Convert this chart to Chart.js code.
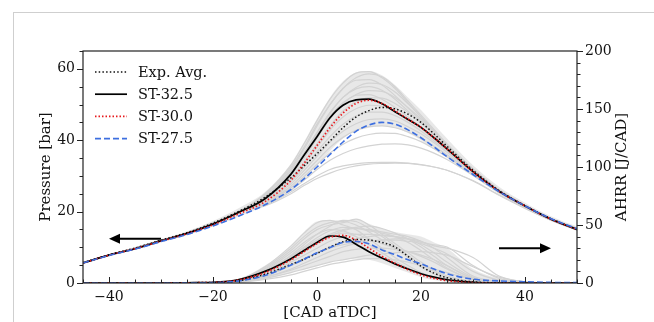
<!DOCTYPE html>
<html>
<head>
<meta charset="utf-8">
<script src="https://cdn.jsdelivr.net/npm/chart.js@4"></script>
<style>
  html, body { margin: 0; padding: 0; background: #fff; }
  #wrap { position: relative; width: 654px; height: 322px; overflow: hidden; }
  #frame { position: absolute; left: 13px; top: 12px; right: -2px; bottom: -2px;
           border-top: 1px solid #cfcfcf; border-left: 1px solid #cfcfcf; }
  canvas { position: absolute; left: 0; top: 0; }
</style>
</head>
<body>
<div id="wrap">
  <canvas id="chart" width="654" height="322"></canvas>
  <div id="frame"></div>
</div>
<script>
// crank angle grid [CAD aTDC]
const cad = [-45, -40, -35, -30, -25, -20, -15, -10, -5, -2.5, 0, 2.5, 5, 7.5, 10,
             12.5, 15, 17.5, 20, 22.5, 25, 30, 35, 40, 45, 50];

// pressure [bar]
const pExpAvg = [5.7, 7.9, 9.8, 12.0, 14.1, 16.8, 20.1, 24.0, 29.5, 32.8, 36.2, 39.8, 43.5,
                 46.5, 48.3, 49.2, 48.8, 47.3, 45.0, 41.8, 38.3, 31.6, 25.9, 21.7, 18.0, 15.0];
const pST325 = [5.6, 7.8, 9.6, 11.8, 13.9, 16.5, 19.8, 23.6, 30.5, 35.8, 41.0, 46.3, 49.8,
                51.3, 51.5, 50.2, 48.0, 45.8, 43.6, 40.7, 37.6, 31.2, 25.7, 21.6, 17.9, 15.0];
const pST300 = [5.6, 7.8, 9.6, 11.7, 13.8, 16.3, 19.4, 22.8, 28.8, 33.5, 38.5, 43.5, 47.6,
                50.3, 51.2, 50.3, 48.2, 45.9, 43.6, 40.7, 37.6, 31.2, 25.7, 21.6, 17.9, 15.0];
const pST275 = [5.6, 7.7, 9.5, 11.6, 13.6, 16.0, 18.8, 21.9, 26.2, 29.2, 32.5, 36.0, 39.5,
                42.5, 44.3, 45.0, 44.5, 42.9, 40.7, 38.1, 35.4, 30.4, 25.6, 21.6, 18.0, 15.2];

// apparent heat release rate [J/CAD]
const aExpAvg = [0, 0, 0, 0.2, 0.3, 0.5, 2.0, 7.5, 16, 20.5, 25.5, 31, 35.5, 37.5, 37,
                 35, 31, 23, 14.5, 8.5, 4.5, 1, 0.2, 0, 0, 0];
const aST325 = [0, 0, 0, 0, 0.2, 0.6, 3, 10, 21, 28, 35, 40.5, 39.5, 33.5, 27,
                21.5, 16.5, 12, 8, 5, 2.8, 0.5, 0, 0, 0, 0];
const aST300 = [0, 0, 0, 0, 0.2, 0.5, 2.6, 9, 20, 27, 34, 39.5, 41, 37, 30,
                23, 17, 11.5, 7, 4, 2, 0.3, 0, 0, 0, 0];
const aST275 = [0, 0, 0, 0, 0.1, 0.3, 1.8, 6.5, 15.5, 20.5, 26, 30.5, 35, 35.8, 33.8,
                28.5, 24.5, 20, 16.5, 12, 8, 3.3, 1.8, 1, 0.5, 0.3];

// spread of the experimental cycles (dense part of the grey band)
const pBandTop = [5.8, 8.1, 10.0, 12.3, 14.5, 17.4, 21.0, 25.5, 33.5, 39.5, 46, 52, 56.5,
                  59, 59.4, 58.2, 55.5, 52, 48.5, 44.5, 40.5, 33, 27, 22.5, 18.7, 15.8];
const pBandLow = [5.4, 7.5, 9.3, 11.4, 13.4, 15.8, 18.6, 21.8, 26, 29, 33, 37, 40.5,
                  42.5, 43.5, 44, 43.5, 42, 40, 37.5, 35, 30, 25, 21, 17.4, 14.6];
const aBandTop = [0, 0, 0, 0.3, 0.4, 0.6, 3.5, 15, 32, 44, 53, 54, 54, 55, 51,
                  47, 44, 42, 40, 35, 30, 12, 4, 1.5, 0.5, 0];
const aBandLow = [0, 0, 0, 0, 0, 0, 0.5, 3, 9, 12, 15, 18, 20, 21, 20,
                  17, 13, 9, 5, 2.5, 1, 0.2, 0, 0, 0, 0];

// individual experimental cycles (grey)
// pressure: shared compression part (-45..-15), then one row per cycle (-10..50)
const pCompression = [5.6, 7.8, 9.7, 11.9, 14.0, 16.7, 20.0];
const pCycles = [
  [25, 33, 39, 45.5, 51.5, 56, 58.8, 59.2, 57.5, 54.5, 50.5, 46.5, 42.5, 38.8, 31.8, 26, 21.6, 18, 15.2],
  [24.5, 32, 37.5, 44, 50, 54.5, 57.5, 58.6, 57.8, 55, 51, 47, 43, 39, 32, 26.2, 21.8, 18.1, 15.3],
  [24.8, 32.5, 38, 44.5, 50, 54.5, 56.8, 57, 55.5, 52.5, 49, 45.5, 41.8, 38.2, 31.5, 25.8, 21.5, 17.9, 15.1],
  [24.2, 31, 36, 42, 47.5, 52, 54.8, 56, 55.6, 53.5, 50.2, 46.5, 42.6, 38.8, 31.9, 26.1, 21.7, 18, 15.2],
  [24.3, 31.5, 36.5, 42.2, 47.8, 52, 54.4, 55, 54, 51.5, 48.2, 45, 41.4, 38, 31.3, 25.7, 21.4, 17.8, 15],
  [23.8, 30.2, 35, 40.5, 46, 50.2, 52.8, 53.9, 53.7, 52, 49.2, 46, 42.4, 38.8, 31.9, 26, 21.7, 18, 15.2],
  [24, 31, 36, 41.5, 46.8, 50.5, 52.6, 52.8, 51.5, 49.2, 46.5, 43.5, 40.3, 37.2, 31, 25.6, 21.3, 17.8, 15],
  [23.5, 29.5, 34, 39, 44, 48.2, 50.8, 51.9, 51.8, 50.3, 47.8, 44.8, 41.5, 38.2, 31.6, 25.9, 21.6, 17.9, 15.1],
  [23.3, 29, 33.2, 38, 42.8, 46.5, 48.8, 49.8, 49.5, 48.2, 46, 43.3, 40.3, 37.3, 31.2, 25.7, 21.5, 17.9, 15.1],
  [23, 28.4, 32.3, 36.8, 41, 44.5, 46.8, 47.9, 47.9, 46.9, 45, 42.6, 39.8, 37, 31, 25.6, 21.4, 17.8, 15],
  [22.8, 27.8, 31.5, 35.5, 39.5, 42.5, 44.6, 45.8, 46, 45.4, 43.8, 41.8, 39.3, 36.6, 30.9, 25.6, 21.4, 17.8, 15],
  [22.5, 27.2, 30.6, 34.3, 38, 40.8, 42.8, 43.8, 44, 43.5, 42.3, 40.5, 38.3, 35.9, 30.6, 25.5, 21.3, 17.8, 15],
  [22.3, 26.7, 29.8, 33.2, 36.4, 38.9, 40.6, 41.6, 42, 41.9, 41, 39.6, 37.6, 35.4, 30.4, 25.4, 21.3, 17.8, 15],
  [22, 26, 28.8, 31.8, 34.4, 36.3, 37.6, 38.4, 38.9, 39, 38.7, 37.8, 36.4, 34.6, 30.1, 25.3, 21.2, 17.7, 14.9],
  [21.8, 25.5, 27.8, 30, 31.8, 32.8, 33.4, 33.7, 33.8, 33.8, 33.6, 33.2, 32.5, 31.6, 28.6, 24.6, 20.9, 17.6, 14.9],
  [21.6, 25, 27.3, 29.3, 30.8, 32, 32.8, 33.3, 33.5, 33.6, 33.5, 33.1, 32.5, 31.6, 28.7, 24.7, 21, 17.6, 14.9]
];
// AHRR: quiet part (-45..-20), then one row per cycle (-15..50)
const aQuiet = [0, 0, 0, 0, 0, 0];
const aCycles = [
  [3, 14, 32, 43, 52, 54, 50, 46, 38, 30, 22, 15, 9, 5, 2.5, 0.5, 0, 0, 0, 0],
  [2, 10, 24, 33, 42, 49, 54, 53, 47, 40, 32, 24, 16, 10, 5, 1, 0, 0, 0, 0],
  [2.5, 12, 28, 38, 46, 50, 52, 55, 50, 42, 34, 26, 18, 11, 6, 1.5, 0.3, 0, 0, 0],
  [1.5, 8, 20, 27, 34, 40, 45, 47, 46, 44, 42, 40, 36, 30, 22, 6, 1.5, 0.5, 0, 0],
  [1.5, 7, 18, 24, 30, 36, 40, 42, 42, 41, 40, 38, 35, 33, 31, 15, 4, 1, 0, 0],
  [2, 9, 21, 29, 36, 41, 43, 42, 38, 34, 30, 27, 23, 18, 12, 3, 0.5, 0, 0, 0],
  [1, 6, 15, 20, 26, 31, 35, 38, 40, 41, 40, 38, 33, 26, 18, 5, 1, 0, 0, 0],
  [2.5, 11, 26, 35, 42, 46, 45, 40, 33, 26, 19, 13, 8, 4.5, 2.5, 0.5, 0, 0, 0, 0],
  [1, 5, 12, 17, 22, 27, 31, 34, 36, 37, 37, 36, 34, 30, 25, 10, 2.5, 0.5, 0, 0],
  [1, 5, 11, 15, 19, 23, 27, 29, 30, 30, 29, 27, 24, 20, 15, 4, 1, 0, 0, 0],
  [0.5, 3, 7, 10, 13, 16, 18, 20, 21, 21, 20, 18, 15, 12, 9, 3, 1, 0, 0, 0],
  [2, 10, 23, 31, 39, 45, 48, 47, 45, 43, 40, 35, 28, 20, 13, 3, 0.5, 0, 0, 0],
  [1.5, 7, 16, 21, 26, 30, 33, 35, 36, 37, 38, 38, 36, 32, 30, 22, 6, 1, 0, 0],
  [1, 4, 9, 12, 15, 18, 20, 22, 24, 25, 26, 27, 27, 26, 24, 14, 5, 1, 0, 0],
  [3, 13, 30, 40, 48, 52, 53, 50, 44, 37, 30, 22, 14, 8, 4, 1, 0, 0, 0, 0],
  [2, 9, 22, 30, 37, 42, 46, 48, 49, 47, 43, 38, 31, 23, 15, 4, 1, 0, 0, 0]
];

// axis ticks
const xTicks = [-40, -20, 0, 20, 40];
const pTicks = [0, 20, 40, 60];
const aTicks = [0, 50, 100, 150, 200];

const SERIF = "'DejaVu Serif', 'Liberation Serif', serif";
const GREY = '#d3d3d3';
const BAND = 'rgba(214, 214, 214, 0.55)';

function pts(vals) {
  return cad.map((x, i) => ({x: x, y: vals[i]}));
}
function minus(v) {
  return v < 0 ? '\u2212' + Math.abs(v) : String(v);
}

const styles = {
  exp:   {label: 'Exp. Avg.', borderColor: '#111', borderDash: [1.5, 2.2], borderWidth: 1.5},
  st325: {label: 'ST-32.5', borderColor: '#000', borderDash: [], borderWidth: 1.7},
  st300: {label: 'ST-30.0', borderColor: '#e8191c', borderDash: [1.5, 2], borderWidth: 1.7},
  st275: {label: 'ST-27.5', borderColor: '#3d6fe0', borderDash: [6, 3], borderWidth: 1.6}
};

const datasets = [];
function main(st, vals, axis) {
  datasets.push(Object.assign({}, st, {data: pts(vals), yAxisID: axis, order: 1}));
}
main(styles.st275, pST275, 'y');
main(styles.st300, pST300, 'y');
main(styles.st325, pST325, 'y');
main(styles.exp, pExpAvg, 'y');
main(styles.st275, aST275, 'y1');
main(styles.st300, aST300, 'y1');
main(styles.st325, aST325, 'y1');
main(styles.exp, aExpAvg, 'y1');

pCycles.forEach(c => datasets.push({
  label: '', data: pts(pCompression.concat(c)), yAxisID: 'y',
  borderColor: GREY, borderWidth: 1.2, order: 5
}));
aCycles.forEach(c => datasets.push({
  label: '', data: pts(aQuiet.concat(c)), yAxisID: 'y1',
  borderColor: GREY, borderWidth: 1.2, order: 5
}));

// filled bands (top dataset fills down to the following one)
function band(top, low, axis) {
  datasets.push({label: '', data: pts(top), yAxisID: axis, borderWidth: 0,
                 borderColor: 'rgba(0,0,0,0)', backgroundColor: BAND, fill: '+1', order: 9});
  datasets.push({label: '', data: pts(low), yAxisID: axis, borderWidth: 0,
                 borderColor: 'rgba(0,0,0,0)', order: 9});
}
band(pBandTop, pBandLow, 'y');
band(aBandTop, aBandLow, 'y1');

const legendItems = [styles.exp, styles.st325, styles.st300, styles.st275];

const decor = {
  id: 'decor',
  afterDatasetsDraw(chart) {
    const {ctx, chartArea: a, scales} = chart;
    const x = scales.x, y = scales.y, y1 = scales.y1;
    ctx.save();

    // frame
    ctx.strokeStyle = '#222';
    ctx.lineWidth = 1.2;
    ctx.strokeRect(a.left, a.top, a.right - a.left, a.bottom - a.top);

    // tick marks (major + minor)
    ctx.lineWidth = 1;
    ctx.beginPath();
    for (let v = -45; v <= 50; v += 5) {
      const px = Math.round(x.getPixelForValue(v)) + 0.5;
      const len = v % 20 === 0 ? 6 : 3.5;
      ctx.moveTo(px, a.bottom);
      ctx.lineTo(px, a.bottom - len);
    }
    for (let v = 0; v <= 65; v += 5) {
      const py = Math.round(y.getPixelForValue(v)) + 0.5;
      const len = v % 20 === 0 ? 6 : 3.5;
      ctx.moveTo(a.left, py);
      ctx.lineTo(a.left - len, py);
    }
    for (let v = 0; v <= 200; v += 10) {
      const py = Math.round(y1.getPixelForValue(v)) + 0.5;
      const len = v % 50 === 0 ? 6 : 3.5;
      ctx.moveTo(a.right, py);
      ctx.lineTo(a.right + len, py);
    }
    ctx.stroke();

    // arrows pointing to the axis of each group
    function arrow(x0, x1, yy) {
      const tail = x.getPixelForValue(x0), head = x.getPixelForValue(x1);
      const dir = Math.sign(head - tail);
      ctx.strokeStyle = '#000';
      ctx.fillStyle = '#000';
      ctx.lineWidth = 2;
      ctx.beginPath();
      ctx.moveTo(tail, yy);
      ctx.lineTo(head - dir * 8, yy);
      ctx.stroke();
      ctx.beginPath();
      ctx.moveTo(head, yy);
      ctx.lineTo(head - dir * 11, yy - 5);
      ctx.lineTo(head - dir * 11, yy + 5);
      ctx.closePath();
      ctx.fill();
    }
    arrow(-30, -40, y.getPixelForValue(12.4));
    arrow(35, 45, y1.getPixelForValue(30));

    // right axis title, reading bottom to top
    ctx.save();
    ctx.translate(622, (a.top + a.bottom) / 2);
    ctx.rotate(-Math.PI / 2);
    ctx.font = '15px ' + SERIF;
    ctx.fillStyle = '#111';
    ctx.textAlign = 'center';
    ctx.textBaseline = 'middle';
    ctx.fillText('AHRR [J/CAD]', 0, 0);
    ctx.restore();

    // legend
    ctx.font = '14.5px ' + SERIF;
    ctx.textBaseline = 'middle';
    ctx.textAlign = 'left';
    legendItems.forEach((it, i) => {
      const ly = a.top + 21 + i * 22.2;
      ctx.strokeStyle = it.borderColor;
      ctx.lineWidth = it.borderWidth;
      ctx.setLineDash(it.borderDash);
      ctx.beginPath();
      ctx.moveTo(a.left + 12, ly);
      ctx.lineTo(a.left + 44, ly);
      ctx.stroke();
      ctx.setLineDash([]);
      ctx.fillStyle = '#111';
      ctx.fillText(it.label, a.left + 55, ly + 1);
    });
    ctx.restore();
  }
};

new Chart(document.getElementById('chart'), {
  type: 'line',
  data: {datasets: datasets},
  options: {
    responsive: false,
    animation: false,
    events: [],
    layout: {padding: {top: 51, left: 0, right: 0, bottom: 0}},
    elements: {
      point: {radius: 0},
      line: {fill: false, cubicInterpolationMode: 'monotone'}
    },
    plugins: {legend: {display: false}, tooltip: {enabled: false}},
    scales: {
      x: {
        type: 'linear', min: -45, max: 50,
        afterBuildTicks: s => { s.ticks = xTicks.map(v => ({value: v})); },
        afterFit: s => { s.height = 39; },
        grid: {display: false, drawTicks: false},
        border: {display: false},
        ticks: {color: '#111', padding: 6, font: {family: SERIF, size: 14}, callback: minus, maxRotation: 0},
        title: {display: true, text: '[CAD aTDC]', color: '#111', font: {family: SERIF, size: 15},
                padding: {top: 0, bottom: 0}}
      },
      y: {
        type: 'linear', position: 'left', min: 0, max: 65,
        afterBuildTicks: s => { s.ticks = pTicks.map(v => ({value: v})); },
        afterFit: s => { s.width = 83; },
        grid: {display: false, drawTicks: false},
        border: {display: false},
        ticks: {color: '#111', padding: 8, font: {family: SERIF, size: 14}},
        title: {display: true, text: 'Pressure [bar]', color: '#111', font: {family: SERIF, size: 15},
                padding: {top: 37, bottom: 0}}
      },
      y1: {
        type: 'linear', position: 'right', min: 0, max: 200,
        afterBuildTicks: s => { s.ticks = aTicks.map(v => ({value: v})); },
        afterFit: s => { s.width = 77; },
        grid: {display: false, drawTicks: false},
        border: {display: false},
        ticks: {color: '#111', padding: 8, font: {family: SERIF, size: 14}}
      }
    }
  },
  plugins: [decor]
});
</script>
</body>
</html>
